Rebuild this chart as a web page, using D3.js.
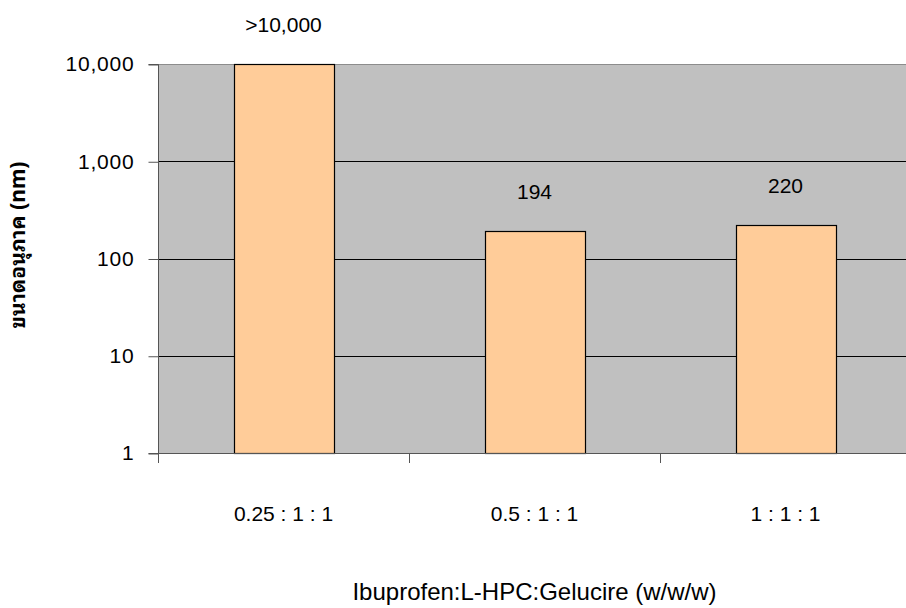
<!DOCTYPE html>
<html>
<head>
<meta charset="utf-8">
<script src="https://cdn.jsdelivr.net/npm/d3@7"></script>
<style>
  html, body { margin: 0; padding: 0; background: #fff; overflow: hidden; }
  text { font-family: "Liberation Sans", Arial, sans-serif; fill: #000; }
</style>
</head>
<body>
<svg id="chart" width="906" height="608"></svg>
<script>
// Particle size by formulation ratio
const categories = ["0.25 : 1 : 1", "0.5 : 1 : 1", "1 : 1 : 1"];
const sizes = [10000, 194, 220];
const sizeLabels = [">10,000", "194", "220"];
const yTicks = [1, 10, 100, 1000, 10000];
const xTitle = "Ibuprofen:L-HPC:Gelucire (w/w/w)";
const yTitle = "ขนาดอนุภาค (nm)";

const svg = d3.select("#chart");
const plotLeft = 158, plotTop = 64, plotBottom = 453, bandW = 251;
const plotRight = plotLeft + bandW * categories.length;

const x = d3.scaleBand().domain(categories).range([plotLeft, plotRight]).paddingInner(0).paddingOuter(0);
const y = d3.scaleLog().domain([1, 10000]).range([plotBottom, plotTop]);
const barW = 100;

// plot background
svg.append("rect")
  .attr("x", plotLeft).attr("y", plotTop)
  .attr("width", plotRight - plotLeft).attr("height", plotBottom - plotTop)
  .attr("fill", "#c0c0c0");

// top border
svg.append("line")
  .attr("x1", plotLeft).attr("x2", plotRight)
  .attr("y1", plotTop + 0.5).attr("y2", plotTop + 0.5)
  .attr("stroke", "#8c8c8c").attr("stroke-width", 1);

// gridlines
svg.append("g").selectAll("line")
  .data(yTicks.filter(d => d > 1 && d < 10000))
  .join("line")
  .attr("x1", plotLeft).attr("x2", plotRight)
  .attr("y1", d => Math.round(y(d)) + 0.5).attr("y2", d => Math.round(y(d)) + 0.5)
  .attr("stroke", "#000").attr("stroke-width", 1);

// bars
svg.append("g").selectAll("rect")
  .data(sizes)
  .join("rect")
  .attr("x", (d, i) => Math.round(x(categories[i]) + (bandW - barW) / 2) + 0.5)
  .attr("y", d => Math.round(y(d)) + 0.5)
  .attr("width", barW)
  .attr("height", d => Math.round(plotBottom - y(d)))
  .attr("fill", "#ffcc99")
  .attr("stroke", "#000")
  .attr("stroke-width", 1.2);

// value labels
svg.append("g").selectAll("text")
  .data(sizes)
  .join("text")
  .attr("x", (d, i) => x(categories[i]) + bandW / 2)
  .attr("y", d => y(d) - 32)
  .attr("text-anchor", "middle")
  .attr("font-size", 21)
  .text((d, i) => sizeLabels[i]);

// y axis
const yAxis = d3.axisLeft(y)
  .tickValues(yTicks)
  .tickFormat(d3.format(","))
  .tickSize(10)
  .tickPadding(14);
const gy = svg.append("g")
  .attr("transform", `translate(${plotLeft + 0.5},0.5)`)
  .call(yAxis);
gy.select(".domain").attr("stroke", "#555").attr("d", `M-10,${plotBottom}H0V${plotTop}H-10`);
gy.selectAll(".tick line").attr("stroke", "#555");
gy.selectAll(".tick text")
  .attr("font-size", 21)
  .attr("letter-spacing", 0.8)
  .attr("dy", "0.3em")
  .attr("font-family", "Liberation Sans, Arial, sans-serif")
  .attr("fill", "#222");

// x axis
const xAxis = d3.axisBottom(x).tickSize(0).tickPadding(53);
const gx = svg.append("g")
  .attr("transform", `translate(0,${plotBottom + 0.5})`)
  .call(xAxis);
gx.select(".domain").attr("stroke", "#555").attr("d", `M${plotLeft},0H${plotRight}`);
gx.selectAll(".tick text")
  .attr("font-size", 21)
  .attr("font-family", "Liberation Sans, Arial, sans-serif")
  .attr("fill", "#222");

// category boundary ticks
svg.append("g").selectAll("line")
  .data(d3.range(categories.length + 1))
  .join("line")
  .attr("x1", i => Math.round(plotLeft + i * bandW) + 0.5)
  .attr("x2", i => Math.round(plotLeft + i * bandW) + 0.5)
  .attr("y1", plotBottom).attr("y2", plotBottom + 10)
  .attr("stroke", "#555");

// axis titles
svg.append("text")
  .attr("x", (plotLeft + plotRight) / 2)
  .attr("y", 600)
  .attr("text-anchor", "middle")
  .attr("font-size", 24)
  .text(xTitle);

svg.append("text")
  .attr("transform", `translate(25,245) rotate(-90)`)
  .attr("text-anchor", "middle")
  .attr("font-size", 21)
  .attr("font-weight", "bold")
  .style("font-family", "'Noto Sans Thai Looped', Loma, Garuda, Kinnari, Norasi, Tahoma, 'Noto Sans Thai', sans-serif")
  .text(yTitle);
</script>
</body>
</html>
